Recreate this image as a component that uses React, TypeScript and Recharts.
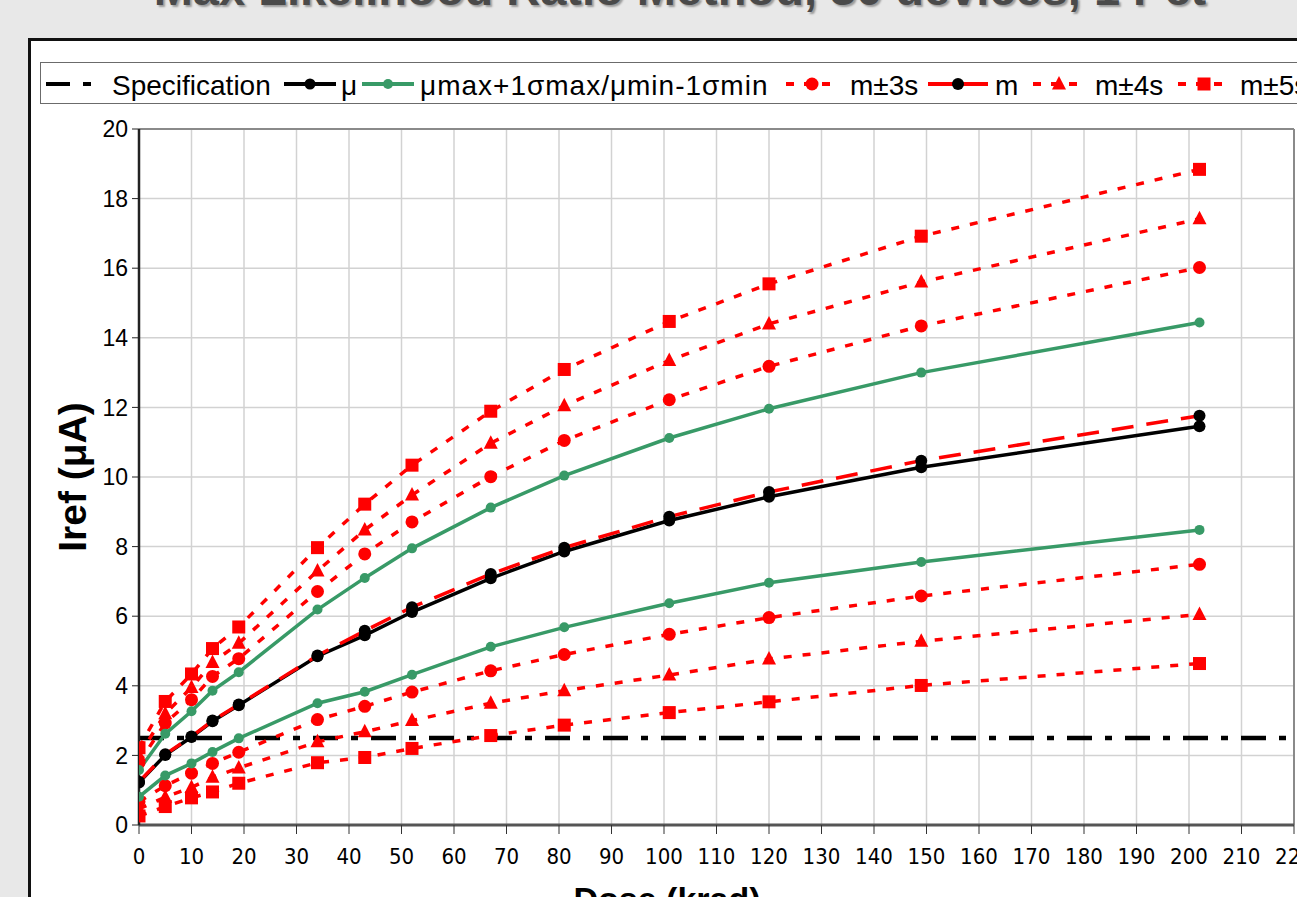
import React from "react";
import { LineChart, Line, XAxis, YAxis, CartesianGrid, ReferenceLine } from "recharts";

// dose steps (krad) where the parts were measured
const DOSE = [0, 5, 10, 14, 19, 34, 43, 52, 67, 81, 101, 120, 149, 202];

// Iref (uA) per dose step
const MU = [1.22, 2.01, 2.53, 2.98, 3.44, 4.85, 5.45, 6.12, 7.09, 7.86, 8.75, 9.43, 10.28, 11.46];
const M = [1.24, 2.03, 2.54, 3.0, 3.46, 4.87, 5.58, 6.26, 7.21, 7.97, 8.86, 9.57, 10.47, 11.76];
const MU_MAX_1S = [1.58, 2.62, 3.27, 3.86, 4.39, 6.19, 7.1, 7.95, 9.12, 10.04, 11.12, 11.96, 13.0, 14.44];
const MU_MIN_1S = [0.81, 1.42, 1.77, 2.1, 2.49, 3.5, 3.83, 4.32, 5.12, 5.68, 6.37, 6.96, 7.56, 8.48];
const M_PLUS_3S = [1.79, 2.93, 3.6, 4.27, 4.78, 6.71, 7.79, 8.71, 10.01, 11.05, 12.22, 13.18, 14.34, 16.02];
const M_MINUS_3S = [0.67, 1.13, 1.49, 1.77, 2.09, 3.03, 3.41, 3.82, 4.43, 4.9, 5.48, 5.96, 6.58, 7.49];
const M_PLUS_4S = [2.0, 3.2, 3.95, 4.67, 5.22, 7.3, 8.48, 9.48, 10.97, 12.05, 13.35, 14.4, 15.6, 17.42];
const M_MINUS_4S = [0.46, 0.8, 1.08, 1.37, 1.64, 2.39, 2.68, 3.0, 3.5, 3.86, 4.31, 4.77, 5.28, 6.05];
const M_PLUS_5S = [2.22, 3.55, 4.34, 5.07, 5.69, 7.97, 9.22, 10.34, 11.89, 13.09, 14.47, 15.55, 16.92, 18.84];
const M_MINUS_5S = [0.26, 0.53, 0.78, 0.95, 1.2, 1.79, 1.94, 2.2, 2.57, 2.87, 3.23, 3.54, 4.01, 4.64];

const SPEC_LIMIT = 2.5;
const X_MAX = 220;
const Y_MAX = 20;

const X_TICKS = [0, 10, 20, 30, 40, 50, 60, 70, 80, 90, 100, 110, 120, 130, 140, 150, 160, 170, 180, 190, 200, 210, 220];
const Y_TICKS = [0, 2, 4, 6, 8, 10, 12, 14, 16, 18, 20];

// minor ticks: x halfway between majors, y five per major step
const X_MINOR = X_TICKS.slice(0, -1).map((t) => t + 5);
const Y_MINOR = Y_TICKS.slice(0, -1).flatMap((t) => [0.4, 0.8, 1.2, 1.6].map((d) => +(t + d).toFixed(1)));

const RED = "#ff0000";
const GREEN = "#389a67";
const NARROW = "'Liberation Sans Narrow', 'Arial Narrow', 'DejaVu Sans Condensed', sans-serif";
const SANS = "'Liberation Sans', Arial, sans-serif";

const rows = DOSE.map((x, i) => ({
  x,
  mu: MU[i],
  m: M[i],
  gHi: MU_MAX_1S[i],
  gLo: MU_MIN_1S[i],
  s3Hi: M_PLUS_3S[i],
  s3Lo: M_MINUS_3S[i],
  s4Hi: M_PLUS_4S[i],
  s4Lo: M_MINUS_4S[i],
  s5Hi: M_PLUS_5S[i],
  s5Lo: M_MINUS_5S[i],
}));

const specRows = [
  { x: 0, spec: SPEC_LIMIT },
  { x: X_MAX, spec: SPEC_LIMIT },
];

type DotProps = { cx?: number; cy?: number; index?: number };

const roundDot = (fill: string, r: number) => (p: DotProps) =>
  <circle key={`c${p.index}`} cx={p.cx} cy={p.cy} r={r} fill={fill} />;

const squareDot = (p: DotProps) =>
  <rect key={`s${p.index}`} x={(p.cx ?? 0) - 6.5} y={(p.cy ?? 0) - 6.5} width={13} height={13} fill={RED} />;

const triangleDot = (p: DotProps) => {
  const cx = p.cx ?? 0;
  const cy = p.cy ?? 0;
  return <polygon key={`t${p.index}`} points={`${cx},${cy - 8} ${cx + 7},${cy + 5.5} ${cx - 7},${cy + 5.5}`} fill={RED} />;
};

const DOTTED = "8 11";
const LONG_DASH = "22 13";
const SPEC_DASH = "25 13 7 13";

function Sample({ stroke, dash, marker, width = 52 }: { stroke: string; dash?: string; marker?: React.ReactNode; width?: number }) {
  return (
    <svg width={width} height={24} style={{ position: "absolute", top: 72 }}>
      <line x1={0} y1={12} x2={width} y2={12} stroke={stroke} strokeWidth={4} strokeDasharray={dash} />
      {marker}
    </svg>
  );
}

// legend entries with their left edges (sample, text) as laid out in the source
const LEGEND = [
  { label: "Specification", at: [46, 112], sample: <Sample stroke="#000" dash="24 13 8 13" /> },
  { label: "μ", at: [284, 341], sample: <Sample stroke="#000" marker={<circle cx={26} cy={12} r={5.5} fill="#000" />} /> },
  { label: "μmax+1σmax/μmin-1σmin", at: [362, 420], spacing: 1, sample: <Sample stroke={GREEN} marker={<circle cx={26} cy={12} r={5} fill={GREEN} />} /> },
  { label: "m±3s", at: [786, 850], sample: <Sample stroke={RED} dash="8 10" marker={<circle cx={26} cy={12} r={6.5} fill={RED} />} /> },
  { label: "m", at: [928, 995], sample: <Sample stroke={RED} width={60} marker={<circle cx={30} cy={12} r={6} fill="#000" />} /> },
  { label: "m±4s", at: [1033, 1095], sample: <Sample stroke={RED} dash="8 10" marker={<polygon points="26,4 33,17.5 19,17.5" fill={RED} />} /> },
  { label: "m±5s", at: [1178, 1240], sample: <Sample stroke={RED} dash="8 10" marker={<rect x={19.5} y={5.5} width={13} height={13} fill={RED} />} /> },
];

function ChartLegend() {
  return (
    <>
      <div
        style={{
          position: "absolute",
          left: 40,
          top: 62,
          width: 1400,
          height: 40,
          border: "1.5px solid #6b6b6b",
          background: "#fff",
        }}
      />
      {LEGEND.map((it) => (
        <React.Fragment key={it.label}>
          <div style={{ position: "absolute", left: it.at[0], top: 0 }}>{it.sample}</div>
          <span
            style={{
              position: "absolute",
              left: it.at[1],
              top: 72,
              lineHeight: "28px",
              fontFamily: SANS,
              fontSize: 28,
              letterSpacing: it.spacing ?? 0,
              whiteSpace: "nowrap",
            }}
          >
            {it.label}
          </span>
        </React.Fragment>
      ))}
    </>
  );
}

export default function App() {
  return (
    <div style={{ position: "fixed", left: 0, top: 0, width: 1297, height: 897, overflow: "hidden", background: "#e8e8e8" }}>
      {/* chart title, mostly cropped off the top */}
      <div
        style={{
          position: "absolute",
          left: 0,
          width: 1360,
          top: -35,
          lineHeight: "47px",
          textAlign: "center",
          fontFamily: SANS,
          fontWeight: "bold",
          fontSize: 47,
          color: "#4a4a4a",
          textShadow: "2px 2px 2px #9a9a9a",
        }}
      >
        Max Likelihood Ratio Method, 30 devices, 1 Pct
      </div>

      <div style={{ position: "absolute", left: 28, top: 38, width: 1400, height: 1000, border: "3px solid #111", background: "#fff" }} />

      <div style={{ position: "absolute", left: 0, top: 0 }}>
        <LineChart width={1344} height={960} data={rows} margin={{ top: 129, right: 50, left: 0, bottom: 0 }}>
          <CartesianGrid stroke="#d2d2d2" strokeWidth={1.5} />
          <XAxis
            dataKey="x"
            type="number"
            domain={[0, X_MAX]}
            ticks={X_TICKS}
            allowDataOverflow
            height={135}
            interval={0}
            axisLine={{ stroke: "#555", strokeWidth: 3 }}
            tickLine={{ stroke: "#333", strokeWidth: 1 }}
            tickSize={9}
            tickMargin={14}
            tick={{ fill: "#000", fontSize: 22, fontFamily: NARROW }}
          />
          <XAxis
            xAxisId="minor"
            dataKey="x"
            type="number"
            domain={[0, X_MAX]}
            ticks={X_MINOR}
            allowDataOverflow
            mirror
            height={0}
            axisLine={false}
            tick={false}
            tickLine={{ stroke: "#333" }}
            tickSize={6}
          />
          <YAxis
            type="number"
            domain={[0, Y_MAX]}
            ticks={Y_TICKS}
            width={139}
            interval={0}
            axisLine={{ stroke: "#222", strokeWidth: 2.5 }}
            tickLine={{ stroke: "#222" }}
            tickSize={7}
            tickMargin={4}
            tick={{ fill: "#000", fontSize: 23, fontFamily: SANS }}
          />
          <YAxis
            yAxisId="minor"
            type="number"
            domain={[0, Y_MAX]}
            ticks={Y_MINOR}
            mirror
            width={0}
            axisLine={false}
            tick={false}
            tickLine={{ stroke: "#333" }}
            tickSize={6}
          />
          <ReferenceLine y={Y_MAX} stroke="#8a8a8a" strokeWidth={2} />
          <ReferenceLine x={X_MAX} stroke="#8a8a8a" strokeWidth={2} />

          <Line data={specRows} dataKey="spec" stroke="#000" strokeWidth={4.5} strokeDasharray={SPEC_DASH} dot={false} isAnimationActive={false} />

          <Line dataKey="s5Hi" stroke={RED} strokeWidth={3.5} strokeDasharray={DOTTED} dot={squareDot} isAnimationActive={false} />
          <Line dataKey="s5Lo" stroke={RED} strokeWidth={3.5} strokeDasharray={DOTTED} dot={squareDot} isAnimationActive={false} />
          <Line dataKey="s4Hi" stroke={RED} strokeWidth={3.5} strokeDasharray={DOTTED} dot={triangleDot} isAnimationActive={false} />
          <Line dataKey="s4Lo" stroke={RED} strokeWidth={3.5} strokeDasharray={DOTTED} dot={triangleDot} isAnimationActive={false} />
          <Line dataKey="s3Hi" stroke={RED} strokeWidth={3.5} strokeDasharray={DOTTED} dot={roundDot(RED, 6.5)} isAnimationActive={false} />
          <Line dataKey="s3Lo" stroke={RED} strokeWidth={3.5} strokeDasharray={DOTTED} dot={roundDot(RED, 6.5)} isAnimationActive={false} />

          <Line dataKey="gHi" stroke={GREEN} strokeWidth={3.5} dot={roundDot(GREEN, 5)} isAnimationActive={false} />
          <Line dataKey="gLo" stroke={GREEN} strokeWidth={3.5} dot={roundDot(GREEN, 5)} isAnimationActive={false} />

          <Line dataKey="mu" stroke="#000" strokeWidth={3.5} dot={roundDot("#000", 6)} isAnimationActive={false} />
          <Line dataKey="m" stroke={RED} strokeWidth={3.5} strokeDasharray={LONG_DASH} dot={roundDot("#000", 6)} isAnimationActive={false} />
        </LineChart>
      </div>

      <ChartLegend />

      {/* y axis title */}
      <div
        style={{
          position: "absolute",
          left: 73,
          top: 477,
          transform: "translate(-50%, -50%) rotate(-90deg)",
          fontFamily: SANS,
          fontWeight: "bold",
          fontSize: 39,
          whiteSpace: "nowrap",
        }}
      >
        Iref (μA)
      </div>

      {/* x axis title, cut off by the bottom edge */}
      <div
        style={{
          position: "absolute",
          left: 667,
          top: 880,
          transform: "translateX(-50%)",
          fontFamily: SANS,
          fontWeight: "bold",
          fontSize: 34,
          whiteSpace: "nowrap",
        }}
      >
        Dose (krad)
      </div>
    </div>
  );
}
